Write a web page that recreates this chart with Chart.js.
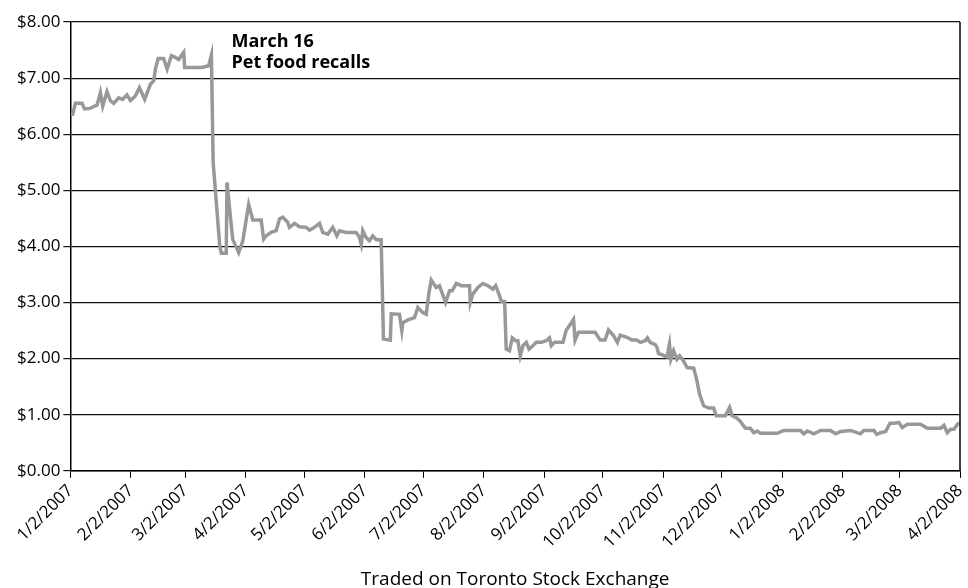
<!DOCTYPE html>
<html>
<head>
<meta charset="utf-8">
<title>Share price</title>
<script src="https://cdn.jsdelivr.net/npm/chart.js@4.4.0/dist/chart.umd.min.js"></script>
<style>
  html, body { margin: 0; padding: 0; background: #fff; }
  #wrap { width: 968px; height: 588px; }
</style>
</head>
<body>
<div id="wrap"><canvas id="myChart"></canvas></div>
<script>
// giorni dal 1/2/2007 e prezzo di chiusura
const days = [1, 2.6, 6, 7.3, 10, 13.7, 15.4, 16.6, 18.8, 20.5, 22.2, 24.8, 26.8, 29, 30.8, 33.3, 35.4, 38.1, 41, 42.7,
  43.6, 45, 47.8, 49.6, 51.8, 53.8, 55.5, 58.1, 58.6, 60.7, 67.5, 70.9, 72.3, 73.2, 76.6, 77.4, 79.9, 80.3, 83.2, 86.3,
  88.4, 91.4, 92.7, 93.5, 97.8, 99.1, 100.4, 102.9, 105.5, 107.2, 108.9, 111.4, 112.3, 114.9, 117.4, 120.9, 122.6, 125.1, 127.7, 129.4,
  132, 134.5, 136.6, 137.9, 141.4, 146.5, 148.2, 149.1, 149.9, 151.6, 153.3, 155, 156.8, 159.3, 160.5, 164, 164.5, 168.7, 169.9, 170.4,
  173, 176.4, 178.1, 180.7, 182.4, 183.7, 185, 187.5, 189.2, 192.3, 194.4, 195.7, 197.8, 200.4, 204.6, 205, 206.3, 208.9, 211.4, 214,
  216.6, 218, 220, 220.9, 222.6, 223.4, 225.1, 226.5, 228.2, 229.4, 230.6, 232, 233.7, 235.1, 237.1, 238.8, 241.4, 243.9, 245.6, 246.5,
  248.2, 252.5, 254.1, 256.2, 257.9, 258.7, 260.4, 269, 271.6, 274.1, 275.8, 278.4, 280.4, 281.8, 285.3, 287.8, 290.4, 292.1, 294.7, 295.8,
  297.2, 299.8, 300.7, 301.5, 303.2, 305.8, 307.1, 307.8, 309.2, 310.9, 312.3, 314.3, 316.1, 319.5, 321.2, 322.5, 324.6, 327.2, 329.7, 331.1,
  335.7, 337.9, 339.2, 341.7, 343.4, 346, 348.5, 350.3, 352, 353.7, 362.3, 365.7, 370.8, 374.2, 375.9, 377.7, 381.1, 384.5, 389.6, 392.2,
  394.8, 399.9, 405, 406.7, 411.9, 413.3, 415.3, 417.9, 420.1, 422.1, 424.7, 426.4, 429, 435.8, 439.3, 446.1, 447.8, 449.5, 451.2, 452.9,
  454.7, 455.5];

const prices = [6.33, 6.55, 6.55, 6.45, 6.46, 6.52, 6.74, 6.50, 6.76, 6.60, 6.55, 6.65, 6.62, 6.70, 6.60, 6.68, 6.83, 6.62, 6.89, 6.95,
  7.16, 7.35, 7.35, 7.16, 7.40, 7.37, 7.33, 7.46, 7.19, 7.19, 7.19, 7.22, 7.41, 5.50, 4.00, 3.88, 3.88, 5.14, 4.13, 3.89,
  4.10, 4.75, 4.58, 4.47, 4.47, 4.13, 4.19, 4.25, 4.28, 4.49, 4.52, 4.43, 4.34, 4.41, 4.35, 4.34, 4.29, 4.34, 4.41, 4.25,
  4.22, 4.34, 4.19, 4.28, 4.25, 4.25, 4.16, 4.04, 4.28, 4.16, 4.10, 4.19, 4.12, 4.12, 2.35, 2.33, 2.80, 2.79, 2.50, 2.64,
  2.69, 2.73, 2.91, 2.82, 2.79, 3.15, 3.40, 3.27, 3.30, 3.00, 3.21, 3.21, 3.34, 3.30, 3.30, 3.00, 3.15, 3.27, 3.34, 3.30,
  3.24, 3.30, 3.12, 3.02, 3.02, 2.17, 2.14, 2.37, 2.32, 2.32, 2.05, 2.23, 2.29, 2.17, 2.23, 2.29, 2.29, 2.32, 2.37, 2.23,
  2.29, 2.29, 2.50, 2.61, 2.70, 2.33, 2.47, 2.47, 2.33, 2.33, 2.51, 2.41, 2.29, 2.42, 2.38, 2.33, 2.33, 2.29, 2.32, 2.37,
  2.29, 2.25, 2.20, 2.09, 2.07, 2.03, 2.26, 1.99, 2.14, 1.99, 2.05, 1.96, 1.84, 1.83, 1.60, 1.37, 1.16, 1.12, 1.12, 0.98,
  0.98, 1.13, 0.98, 0.94, 0.88, 0.76, 0.76, 0.68, 0.71, 0.67, 0.67, 0.72, 0.72, 0.72, 0.66, 0.71, 0.66, 0.72, 0.72, 0.66,
  0.70, 0.72, 0.66, 0.72, 0.72, 0.65, 0.68, 0.70, 0.85, 0.85, 0.86, 0.77, 0.83, 0.83, 0.76, 0.76, 0.81, 0.68, 0.74, 0.74,
  0.83, 0.86];

// etichette dell'asse x (una al mese) e relativa posizione in giorni
const tickDays = [0, 31, 59, 90, 120, 151, 181, 212, 243, 273, 304, 334, 365, 396, 425, 456];
const tickLabels = ['1/2/2007', '2/2/2007', '3/2/2007', '4/2/2007', '5/2/2007', '6/2/2007', '7/2/2007', '8/2/2007',
  '9/2/2007', '10/2/2007', '11/2/2007', '12/2/2007', '1/2/2008', '2/2/2008', '3/2/2008', '4/2/2008'];

// nota sul grafico
const noteLines = ['March 16', 'Pet food recalls'];
const noteDay = 82.6;
const notePrice = 7.56;

const FONT = '"Open Sans", "DejaVu Sans", sans-serif';

// plugin: bordo destro dell'area e testo della nota
const extras = {
  id: 'extras',
  afterDatasetsDraw(chart) {
    const { ctx, chartArea, scales } = chart;
    ctx.save();
    ctx.strokeStyle = '#000';
    ctx.lineWidth = 1.5;
    ctx.beginPath();
    ctx.moveTo(chartArea.right, chartArea.top);
    ctx.lineTo(chartArea.right, chartArea.bottom);
    ctx.stroke();

    ctx.fillStyle = '#000';
    ctx.font = 'bold 18px ' + FONT;
    ctx.textBaseline = 'alphabetic';
    const x = scales.x.getPixelForValue(noteDay);
    const y = scales.y.getPixelForValue(notePrice);
    noteLines.forEach((line, i) => ctx.fillText(line, x, y + i * 21));
    ctx.restore();
  }
};

const points = days.map((d, i) => ({ x: d, y: prices[i] }));

const ctx = document.getElementById('myChart').getContext('2d');
const myChart = new Chart(ctx, {
  type: 'line',
  data: {
    datasets: [{
      label: 'price',
      data: points,
      borderColor: '#97989a',
      borderWidth: 3.5,
      pointRadius: 0,
      tension: 0,
      fill: false
    }]
  },
  options: {
    responsive: true,
    maintainAspectRatio: false,
    animation: false,
    layout: { padding: { top: 22, right: 0, left: 14, bottom: -3 } },
    plugins: {
      legend: { display: false },
      tooltip: { enabled: false }
    },
    scales: {
      x: {
        type: 'linear',
        min: 0,
        max: 456,
        afterBuildTicks: axis => {
          axis.ticks = tickDays.map(v => ({ value: v }));
        },
        //l'ultima etichetta ruotata non deve restringere l'area a destra
        afterFit: axis => {
          axis.paddingRight = 8;
        },
        ticks: {
          autoSkip: false,
          minRotation: 45,
          maxRotation: 45,
          color: '#000',
          font: { family: FONT, size: 17 },
          callback: value => tickLabels[tickDays.indexOf(value)]
        },
        grid: { drawOnChartArea: false, drawTicks: true, tickLength: 7, color: '#000' },
        border: { color: '#000', width: 1.5 },
        title: {
          display: true,
          text: 'Traded on Toronto Stock Exchange',
          color: '#000',
          font: { family: FONT, size: 19 },
          padding: { top: 13, bottom: 0 }
        }
      },
      y: {
        min: 0,
        max: 8,
        ticks: {
          stepSize: 1,
          color: '#000',
          font: { family: FONT, size: 17 },
          callback: v => '$' + v.toFixed(2)
        },
        grid: { color: '#111', lineWidth: 1.2, tickLength: 7 },
        border: { color: '#000', width: 1.5 }
      }
    }
  },
  plugins: [extras]
});
</script>
</body>
</html>
